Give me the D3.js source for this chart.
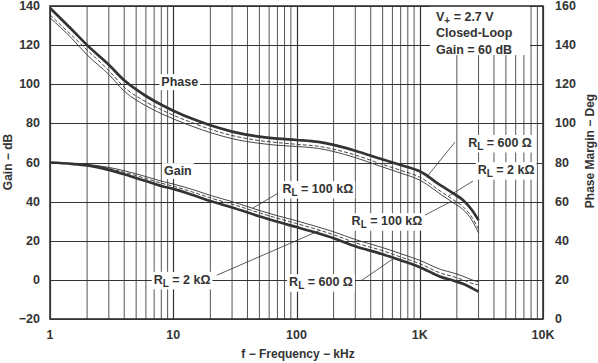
<!DOCTYPE html>
<html>
<head>
<meta charset="utf-8">
<script src="https://cdn.jsdelivr.net/npm/d3@7"></script>
<style>
  body { margin: 0; background: #fff; }
  text { font-family: "Liberation Sans", Arial, sans-serif; font-weight: bold; fill: #333; }
</style>
</head>
<body>
<script>
// frequency in kHz
const freq = [1, 1.5, 2, 3, 4, 6, 8, 10, 15, 20, 30, 50, 70, 100, 150, 200, 300, 500, 700, 1000, 1500, 1860, 2240, 2650, 3000];

// phase margin (deg), right axis
const phase600 = [159, 148, 140, 130, 122, 114, 109.5, 106.5, 101.8, 99, 95.8, 93.2, 92.2, 91.5, 90.5, 89, 86, 81.5, 78.7, 75.5, 68, 64.3, 60.8, 55.7, 50.5];
const phase2k = [155.5, 145, 137.5, 127, 118.5, 111, 107, 104.2, 99.8, 97, 93.8, 91.2, 90.2, 89.3, 88.3, 86.8, 83.8, 79, 76, 72.5, 65, 61, 57.5, 52, 46];
const phase100k = [154, 143.5, 135, 125, 116.5, 109, 105, 102.3, 98, 95.3, 92.2, 89.8, 88.8, 88.2, 87.2, 85.6, 82.5, 77.7, 74.6, 71, 63.5, 59.5, 56, 50.5, 44];

// gain (dB), left axis
const gain600 = [60, 59.3, 58.5, 56.2, 54, 50.5, 48, 46.5, 43, 40.3, 37, 32.5, 29.7, 27, 23.8, 21.3, 17.2, 13.1, 10, 6.5, 1.4, -0.3, -2, -4.2, -6];
const gain2k = [60, 59.4, 58.8, 57, 55, 51.8, 49.4, 47.9, 44.5, 41.9, 38.7, 34.3, 31.5, 28.8, 25.6, 23.1, 19, 14.9, 11.7, 8.3, 3.3, 1.7, 0, -1.8, -2.6];
const gain100k = [60, 59.5, 59, 57.5, 55.8, 52.8, 50.5, 49, 45.8, 43.2, 40, 35.5, 32.8, 30.2, 27, 24.6, 20.6, 16.5, 13.4, 10, 5.2, 3.6, 1.9, 0, -1.0];

const xTicks = [1, 10, 100, 1000, 10000];
const xTickLabels = ["1", "10", "100", "1K", "10K"];
const gainTicks = [-20, 0, 20, 40, 60, 80, 100, 120, 140];
const phaseTicks = [0, 20, 40, 60, 80, 100, 120, 140, 160];

const W = 598, H = 363;
const pL = 50, pR = 543, pT = 6, pB = 319;
const ink = "#333";

const x = d3.scaleLog().domain([1, 10000]).range([pL, pR]);
const y = d3.scaleLinear().domain([-20, 140]).range([pB, pT]);
const yR = d3.scaleLinear().domain([0, 160]).range([pB, pT]);

const svg = d3.select("body").append("svg")
  .attr("width", W)
  .attr("height", H);

// grid
const grid = svg.append("g");
const minor = [];
[1, 10, 100, 1000].forEach(d => { for (let k = 2; k <= 9; k++) minor.push(k * d); });
grid.selectAll(".minor").data(minor).enter().append("line")
  .attr("x1", d => x(d)).attr("x2", d => x(d))
  .attr("y1", pT).attr("y2", pB)
  .attr("stroke", "#555").attr("stroke-width", 1);
grid.selectAll(".major").data(xTicks).enter().append("line")
  .attr("x1", d => Math.round(x(d)) + 0.5).attr("x2", d => Math.round(x(d)) + 0.5)
  .attr("y1", pT).attr("y2", pB)
  .attr("stroke", ink).attr("stroke-width", 1.2);
grid.selectAll(".hz").data(gainTicks).enter().append("line")
  .attr("x1", pL).attr("x2", pR)
  .attr("y1", d => Math.round(y(d)) + 0.5).attr("y2", d => Math.round(y(d)) + 0.5)
  .attr("stroke", ink).attr("stroke-width", 1.2);

// white boxes behind labels (over grid, under curves)
const bgLayer = svg.append("g");
const curveLayer = svg.append("g");
const leaderLayer = svg.append("g");
const textLayer = svg.append("g");

// frame
svg.append("rect")
  .attr("x", pL).attr("y", pT)
  .attr("width", pR - pL).attr("height", pB - pT)
  .attr("fill", "none").attr("stroke", ink).attr("stroke-width", 1.6);

// curves
function drawCurve(vals, scale, width, dash) {
  const line = d3.line()
    .x(d => x(d[0]))
    .y(d => scale(d[1]))
    .curve(d3.curveMonotoneX);
  curveLayer.append("path")
    .attr("d", line(freq.map((f, i) => [f, vals[i]])))
    .attr("fill", "none")
    .attr("stroke", ink)
    .attr("stroke-width", width)
    .attr("stroke-dasharray", dash || null);
}
drawCurve(phase100k, yR, 0.9);
drawCurve(phase2k, yR, 0.9, "4,2");
drawCurve(phase600, yR, 2.7);
drawCurve(gain100k, y, 0.9);
drawCurve(gain2k, y, 0.9, "4,2");
drawCurve(gain600, y, 2.7);

// value of a series at f (linear in log f)
function at(vals, f) {
  const lf = Math.log10(f);
  for (let i = 0; i < freq.length - 1; i++) {
    const a = Math.log10(freq[i]), b = Math.log10(freq[i + 1]);
    if (lf >= a && lf <= b) return vals[i] + (vals[i + 1] - vals[i]) * (lf - a) / (b - a);
  }
  return vals[vals.length - 1];
}

// label with white background
function label(f, v, parts, size) {
  const t = textLayer.append("text")
    .attr("x", x(f)).attr("y", y(v))
    .attr("text-anchor", "middle")
    .attr("dominant-baseline", "central")
    .style("font-size", (size || 12.5) + "px");
  parts.forEach(p => {
    const s = t.append("tspan").text(p.t);
    if (p.sub) s.attr("dy", 3).style("font-size", "10px");
    if (p.up) s.attr("dy", -3);
  });
  const b = t.node().getBBox();
  bgLayer.append("rect")
    .attr("x", b.x - 2).attr("y", b.y - 1)
    .attr("width", b.width + 4).attr("height", b.height + 2)
    .attr("fill", "#fff");
}
function rl(f, v, rest) {
  label(f, v, [{ t: "R" }, { t: "L", sub: true }, { t: " = " + rest, up: true }]);
}
function leader(f1, v1, f2, vals, scale) {
  leaderLayer.append("line")
    .attr("x1", x(f1)).attr("y1", y(v1))
    .attr("x2", x(f2)).attr("y2", scale(at(vals, f2)))
    .attr("stroke", ink).attr("stroke-width", 0.8);
}

label(11.3, 101.1, [{ t: "Phase" }]);
label(10.9, 55.6, [{ t: "Gain" }]);

rl(4480, 70, "600 Ω");
rl(5020, 56.1, "2 kΩ");
rl(542, 30, "100 kΩ");
rl(149, 46.4, "100 kΩ");
rl(11.8, 0, "2 kΩ");
rl(158, -1.2, "600 Ω");

leader(1930, 70.4, 1150, phase600, yR);
leader(2704, 50.5, 1700, phase2k, yR);
leader(1104, 33.1, 1800, phase100k, yR);
leader(70.8, 44.3, 44, gain100k, y);
leader(22.6, 2.4, 155, gain2k, y);
leader(340, -0.15, 620, gain600, y);

// conditions box
bgLayer.append("rect")
  .attr("x", x(1211)).attr("y", pT)
  .attr("width", x(7850) - x(1211)).attr("height", y(114.9) - pT)
  .attr("fill", "#fff");
const cond = textLayer.append("g").style("font-size", "12.5px");
const c1 = cond.append("text").attr("x", 436).attr("y", 20.5);
c1.append("tspan").text("V");
c1.append("tspan").text("+").attr("dy", 3).style("font-size", "10px");
c1.append("tspan").text(" = 2.7 V").attr("dy", -3);
cond.append("text").attr("x", 436).attr("y", 37).text("Closed-Loop");
cond.append("text").attr("x", 436).attr("y", 53.5).text("Gain = 60 dB");

// axes labels
const axes = svg.append("g").style("font-size", "12.5px");
axes.selectAll(".gl").data(gainTicks).enter().append("text")
  .attr("x", 40).attr("y", d => y(d))
  .attr("text-anchor", "end").attr("dominant-baseline", "central")
  .text(d => d < 0 ? "\u2212" + Math.abs(d) : d);
axes.selectAll(".pl").data(phaseTicks).enter().append("text")
  .attr("x", 555).attr("y", d => yR(d))
  .attr("text-anchor", "start").attr("dominant-baseline", "central")
  .text(d => d);
axes.selectAll(".xl").data(xTicks).enter().append("text")
  .attr("x", d => x(d)).attr("y", 339)
  .attr("text-anchor", "middle")
  .text((d, i) => xTickLabels[i]);

svg.append("text")
  .attr("x", 298).attr("y", 358)
  .attr("text-anchor", "middle")
  .style("font-size", "12px")
  .text("f \u2212 Frequency \u2212 kHz");
svg.append("text")
  .attr("transform", "translate(12,162) rotate(-90)")
  .attr("text-anchor", "middle")
  .style("font-size", "12px")
  .text("Gain \u2212 dB");
svg.append("text")
  .attr("transform", "translate(594,151) rotate(-90)")
  .attr("text-anchor", "middle")
  .style("font-size", "12px")
  .text("Phase Margin \u2212 Deg");
</script>
</body>
</html>
